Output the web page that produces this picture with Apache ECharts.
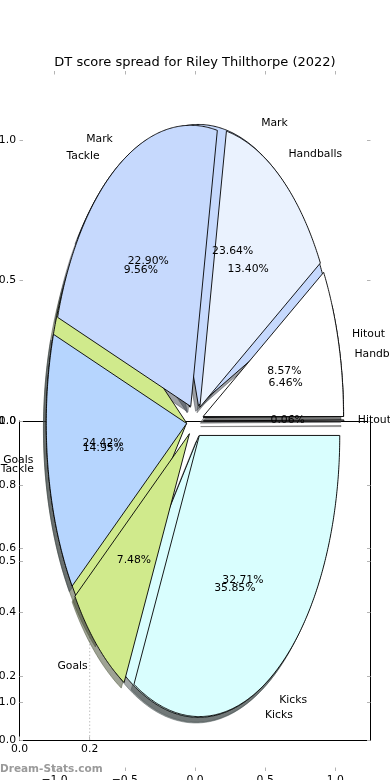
<!DOCTYPE html>
<html><head><meta charset="utf-8">
<script src="https://cdn.jsdelivr.net/npm/echarts@6/dist/echarts.min.js"></script>
<style>html,body{margin:0;padding:0;background:#fff}#c{width:390px;height:780px}</style>
</head><body><div id="c"></div>
<script>
// ---- data ----
const categories = ['Hitout', 'Handballs', 'Mark', 'Tackle', 'Goals', 'Kicks'];
const pieUnderValues = [0.06, 6.46, 23.64, 9.56, 24.42, 35.85];   // first pie (drawn underneath)
const pieOverValues  = [8.57, 13.40, 22.90, 14.95, 7.48, 32.71];  // second pie (drawn on top)
const wedgeColors = ['#ffffff', '#eaf2fe', '#c6d9fd', '#b6d5fe', '#d0ea8c', '#d9fefe'];
const pieXTicks = [-1, -0.5, 0, 0.5, 1];
const pieYTicks = [-1, -0.5, 0, 0.5, 1];
const boxXTicks = [0, 0.2];
const boxYTicks = [0, 0.2, 0.4, 0.6, 0.8, 1.0];
const markerX = 0.2;
const explodeDist = 0.06;
const shadowOffset = [-0.02, -0.02];

const FONT = '"DejaVu Sans", sans-serif';
const FS = 10.8;

function buildWedges(values) {
  const total = values.reduce((a, b) => a + b, 0);
  let cum = 0;
  return values.map((v, i) => {
    const t1 = 360 * cum / total;
    cum += v;
    const t2 = 360 * cum / total;
    const mid = (t1 + t2) / 2 * Math.PI / 180;
    return {
      t1, t2, mid,
      ex: explodeDist * Math.cos(mid),
      ey: explodeDist * Math.sin(mid),
      name: categories[i],
      pct: (100 * v / total).toFixed(2) + '%',
      color: wedgeColors[i]
    };
  });
}
const wedgesUnder = buildWedges(pieUnderValues);
const wedgesOver = buildWedges(pieOverValues);

function shade(hex) {
  const r = parseInt(hex.slice(1, 3), 16), g = parseInt(hex.slice(3, 5), 16), b = parseInt(hex.slice(5, 7), 16);
  return 'rgba(' + Math.round(0.3 * r) + ',' + Math.round(0.3 * g) + ',' + Math.round(0.3 * b) + ',0.5)';
}

function wedgePoints(api, w, ox, oy) {
  const cx = w.ex + ox, cy = w.ey + oy;
  const pts = [api.coord([cx, cy])];
  const n = Math.max(2, Math.ceil((w.t2 - w.t1) / 0.5));
  for (let k = 0; k <= n; k++) {
    const th = (w.t1 + (w.t2 - w.t1) * k / n) * Math.PI / 180;
    pts.push(api.coord([cx + Math.cos(th), cy + Math.sin(th)]));
  }
  return pts;
}

function wedgeSeries(list, z) {
  return {
    type: 'custom', coordinateSystem: 'cartesian2d', xAxisIndex: 0, yAxisIndex: 0, z: z, silent: true,
    data: list.map(w => [w.ex, w.ey]),
    renderItem: function (params, api) {
      const w = list[params.dataIndex];
      return {
        type: 'polygon', shape: { points: wedgePoints(api, w, 0, 0) },
        style: { fill: w.color, stroke: '#000', lineWidth: 0.9 }
      };
    }
  };
}

const allWedges = wedgesUnder.concat(wedgesOver);
const shadowSeries = {
  type: 'custom', coordinateSystem: 'cartesian2d', xAxisIndex: 0, yAxisIndex: 0, z: 2, silent: true,
  data: allWedges.map(w => [w.ex, w.ey]),
  renderItem: function (params, api) {
    const w = allWedges[params.dataIndex];
    const c = shade(w.color);
    return {
      type: 'polygon', shape: { points: wedgePoints(api, w, shadowOffset[0], shadowOffset[1]) },
      style: { fill: c, stroke: c, lineWidth: 0.9 }
    };
  }
};

const labelItems = [];
allWedges.forEach(w => {
  const xt = w.ex + 1.1 * Math.cos(w.mid), yt = w.ey + 1.1 * Math.sin(w.mid);
  labelItems.push({ x: xt, y: yt, text: w.name, align: xt > 0 ? 'left' : 'right' });
  labelItems.push({ x: w.ex + 0.6 * Math.cos(w.mid), y: w.ey + 0.6 * Math.sin(w.mid), text: w.pct, align: 'center' });
});
const labelSeries = {
  type: 'custom', coordinateSystem: 'cartesian2d', xAxisIndex: 0, yAxisIndex: 0, z: 10, silent: true,
  data: labelItems.map(l => [l.x, l.y]),
  renderItem: function (params, api) {
    const l = labelItems[params.dataIndex];
    const p = api.coord([l.x, l.y]);
    return {
      type: 'text', x: p[0], y: p[1],
      style: { text: l.text, fill: '#000', fontSize: FS, fontFamily: FONT, align: l.align, verticalAlign: 'middle' }
    };
  }
};

const fmt = v => (v < 0 ? '\u2212' : '') + Math.abs(v).toFixed(1);
const tickGray = '#b4b4b4';
function tick(vals) {
  return { show: true, inside: true, length: 3.5, customValues: vals, lineStyle: { color: tickGray, width: 1 } };
}
function lab(vals, show) {
  return { show: show, customValues: vals, formatter: fmt, fontSize: FS, fontFamily: FONT, color: '#000', margin: 3.5 };
}
const noLine = { show: false, onZero: false };
const boxLine = { show: true, onZero: false, lineStyle: { color: '#000', width: 1 } };

const chart = echarts.init(document.getElementById('c'), null, { renderer: 'canvas' });
chart.setOption({
  animation: false,
  backgroundColor: '#fff',
  title: {
    text: 'DT score spread for Riley Thilthorpe (2022)', left: 'center', top: 51,
    textStyle: { fontSize: 13, fontWeight: 'normal', color: '#000', fontFamily: FONT }
  },
  grid: [
    { left: 19.5, top: 71, width: 351, height: 700, containLabel: false, outerBoundsMode: 'none' },
    { left: 19.5, top: 421, width: 351, height: 319, containLabel: false, outerBoundsMode: 'none' }
  ],
  xAxis: [
    { gridIndex: 0, type: 'value', position: 'bottom', min: -1.25, max: 1.25,
      axisLine: noLine, axisTick: tick(pieXTicks), axisLabel: lab(pieXTicks, true), splitLine: { show: false } },
    { gridIndex: 0, type: 'value', position: 'top', min: -1.25, max: 1.25,
      axisLine: noLine, axisTick: tick(pieXTicks), axisLabel: { show: false }, splitLine: { show: false } },
    { gridIndex: 1, type: 'value', position: 'bottom', min: 0, max: 1,
      axisLine: boxLine, axisTick: tick(boxXTicks), axisLabel: lab(boxXTicks, true), splitLine: { show: false } },
    { gridIndex: 1, type: 'value', position: 'top', min: 0, max: 1,
      axisLine: boxLine, axisTick: { show: false }, axisLabel: { show: false }, splitLine: { show: false } }
  ],
  yAxis: [
    { gridIndex: 0, type: 'value', position: 'left', min: -1.245, max: 1.245,
      axisLine: noLine, axisTick: tick(pieYTicks), axisLabel: lab(pieYTicks, true), splitLine: { show: false } },
    { gridIndex: 0, type: 'value', position: 'right', min: -1.245, max: 1.245,
      axisLine: noLine, axisTick: tick(pieYTicks), axisLabel: { show: false }, splitLine: { show: false } },
    { gridIndex: 1, type: 'value', position: 'left', min: 0, max: 1, interval: 0.2,
      axisLine: boxLine, axisTick: tick(boxYTicks), axisLabel: lab(boxYTicks, true), splitLine: { show: false } },
    { gridIndex: 1, type: 'value', position: 'right', min: 0, max: 1, interval: 0.2,
      axisLine: boxLine, axisTick: tick(boxYTicks), axisLabel: { show: false }, splitLine: { show: false } }
  ],
  series: [
    { type: 'line', xAxisIndex: 2, yAxisIndex: 2, z: 1, silent: true, symbol: 'none',
      data: [[markerX, 0], [markerX, 1]], lineStyle: { color: '#c0c0c0', width: 1, type: [1.5, 2] } },
    shadowSeries,
    wedgeSeries(wedgesUnder, 3),
    wedgeSeries(wedgesOver, 4),
    labelSeries
  ],
  graphic: [
    { type: 'text', left: 0, top: 764, z: 100,
      style: { text: 'Dream-Stats.com', fill: '#9a9a9a', fontSize: 10.5, fontWeight: 'bold', fontFamily: FONT } }
  ]
});
</script>
</body></html>
